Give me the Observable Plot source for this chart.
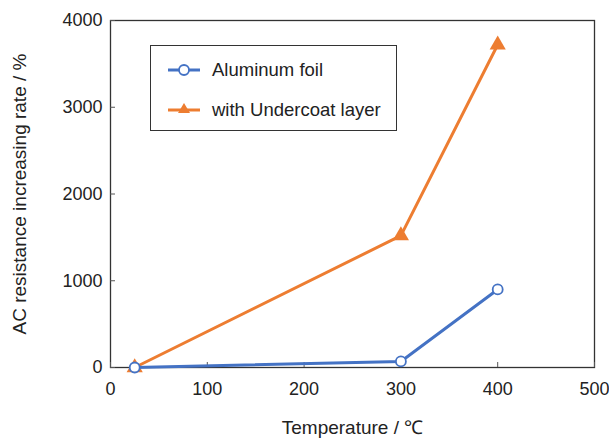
<!DOCTYPE html>
<html><head><meta charset="utf-8">
<script src="https://cdn.jsdelivr.net/npm/d3@7"></script>
<script src="https://cdn.jsdelivr.net/npm/@observablehq/plot@0.6"></script>
<style>
body{margin:0;background:#fff;font-family:"Liberation Sans",Arial,sans-serif;}
#wrap{position:relative;width:609px;height:438px;}
#legend{position:absolute;left:150px;top:45px;width:247px;height:86px;border:1px solid #333;background:#fff;box-sizing:border-box;font-size:18.5px;color:#222;}
.item{position:absolute;left:17px;display:flex;align-items:center;}
.item span{margin-left:12px;}
</style></head>
<body><div id="wrap"><div id="legend"></div></div>
<script>
const temperature = [25, 300, 400];
const aluminumFoil = [0, 70, 900];
const undercoat = [0, 1520, 3720];
const seriesNames = ["Aluminum foil", "with Undercoat layer"];
const colors = ["#4472C4", "#ED7D31"];
const xTicks = [0, 100, 200, 300, 400, 500];
const yTicks = [0, 1000, 2000, 3000, 4000];

const alData = temperature.map((t, i) => ({t, v: aluminumFoil[i]}));
const ucData = temperature.map((t, i) => ({t, v: undercoat[i]}));

const chart = Plot.plot({
  width: 609, height: 438,
  marginLeft: 110, marginRight: 15, marginTop: 20, marginBottom: 71,
  style: {fontFamily: '"Liberation Sans", Arial, sans-serif', fontSize: "18px", color: "#222"},
  x: {domain: [0, 500]},
  y: {domain: [0, 4000]},
  marks: [
    Plot.frame({stroke: "#333", strokeWidth: 1.3}),
    Plot.axisX({ticks: xTicks, tickFormat: d => String(d), tickSize: -5, tickPadding: 20, label: null, stroke: "#555", fontSize: 18}),
    Plot.axisY({ticks: yTicks, tickFormat: d => String(d), tickSize: -5, tickPadding: 13, label: null, stroke: "#555", fontSize: 18}),
    Plot.axisX({ticks: [], label: "Temperature / ℃", labelAnchor: "center", labelArrow: "none", labelOffset: 66, fontSize: 19}),
    Plot.axisY({ticks: [], label: "AC resistance increasing rate / %", labelAnchor: "center", labelArrow: "none", labelOffset: 98, fontSize: 19}),
    Plot.line(ucData, {x: "t", y: "v", stroke: colors[1], strokeWidth: 3}),
    Plot.dot(ucData, {x: "t", y: "v", symbol: "triangle", fill: colors[1], r: 6}),
    Plot.line(alData, {x: "t", y: "v", stroke: colors[0], strokeWidth: 3}),
    Plot.dot(alData, {x: "t", y: "v", symbol: "circle", fill: "white", stroke: colors[0], strokeWidth: 1.8, r: 5})
  ]
});
document.getElementById("wrap").prepend(chart);
chart.style.position = "absolute"; chart.style.left = "0"; chart.style.top = "0";

const legend = document.getElementById("legend");
legend.style.zIndex = 2;
seriesNames.forEach((name, i) => {
  const d = document.createElement("div");
  d.className = "item";
  d.style.top = (i === 0 ? 12 : 52) + "px";
  const sym = i === 0
    ? `<circle cx="16" cy="12" r="5" fill="white" stroke="${colors[0]}" stroke-width="1.8"/>`
    : `<path d="M16,5 L22,15 L10,15 Z" fill="${colors[1]}"/>`;
  d.innerHTML = `<svg width="32" height="24"><line x1="0" y1="12" x2="32" y2="12" stroke="${colors[i]}" stroke-width="3"/>${sym}</svg><span>${name}</span>`;
  legend.appendChild(d);
});
</script></body></html>
